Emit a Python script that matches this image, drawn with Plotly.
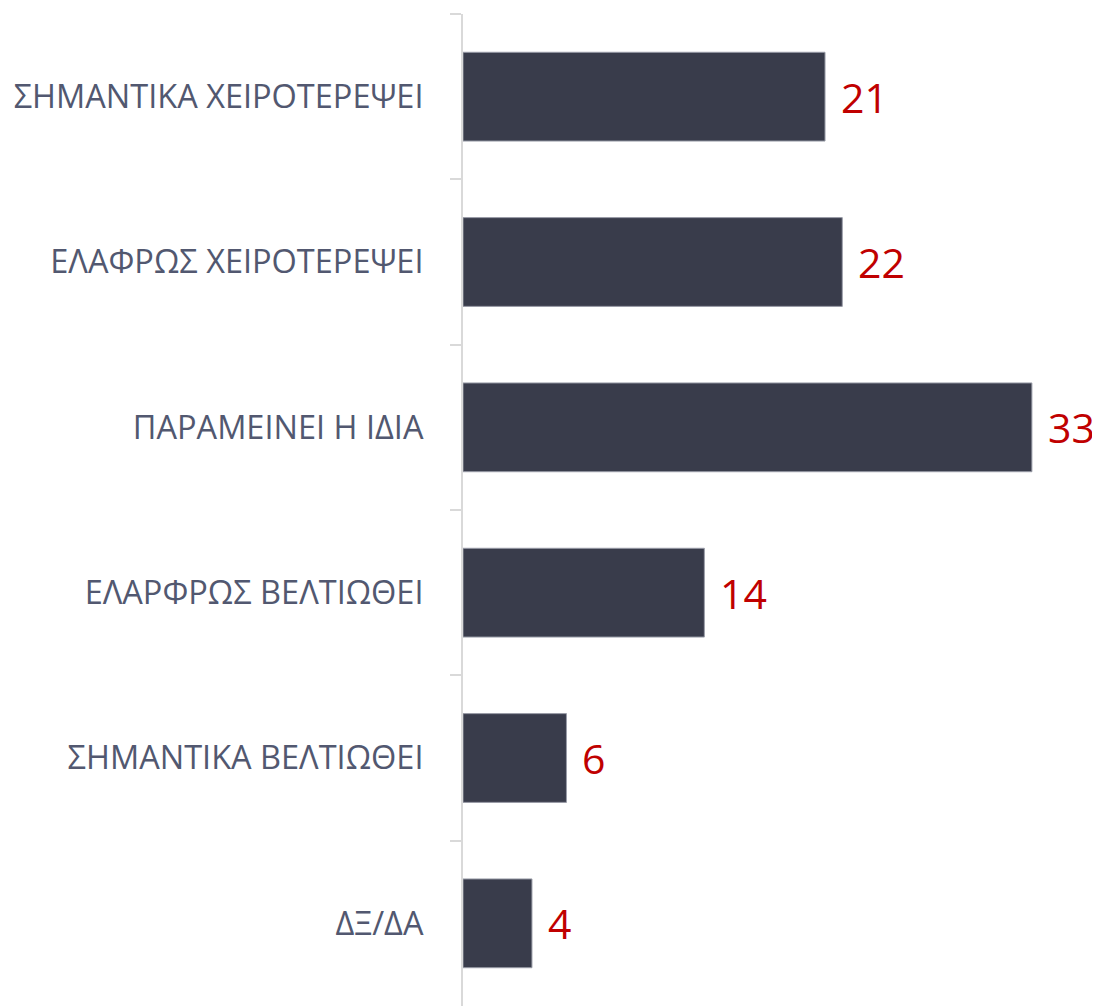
import plotly.graph_objects as go

categories = ["ΣΗΜΑΝΤΙΚΑ ΧΕΙΡΟΤΕΡΕΨΕΙ", "ΕΛΑΦΡΩΣ ΧΕΙΡΟΤΕΡΕΨΕΙ", "ΠΑΡΑΜΕΙΝΕΙ Η ΙΔΙΑ",
              "ΕΛΑΡΦΡΩΣ ΒΕΛΤΙΩΘΕΙ", "ΣΗΜΑΝΤΙΚΑ ΒΕΛΤΙΩΘΕΙ", "ΔΞ/ΔΑ"]
values = [21, 22, 33, 14, 6, 4]

fig = go.Figure()
fig.add_trace(go.Bar(
    x=values, y=categories, orientation="h",
    marker=dict(color="#393C4B", line=dict(color="#9a9da8", width=1)),
    hoverinfo="skip",
))

for v, c in zip(values, categories):
    fig.add_annotation(x=v, y=c, text=str(v), showarrow=False, xanchor="left",
                       xshift=14, yshift=0,
                       font=dict(family="Open Sans", size=41, color="#C00000"))

fig.update_layout(
    width=1092, height=998,
    margin=dict(l=455, r=0, t=6, b=0, autoexpand=False),
    paper_bgcolor="white", plot_bgcolor="white",
    bargap=0.463, showlegend=False,
    font=dict(family="Open Sans"),
)
fig.update_xaxes(range=[0, 36.95], visible=False, showgrid=False, zeroline=False)
fig.update_yaxes(autorange="reversed", showline=True, linecolor="#d9d9d9", linewidth=2,
                 ticks="outside", tickson="boundaries", ticklen=11, tickcolor="#d9d9d9",
                 tickwidth=2, showgrid=False, ticklabelstandoff=31, automargin=False,
                 tickfont=dict(family="Open Sans", size=32.5, color="#525870"))

fig.write_html("out.html")
